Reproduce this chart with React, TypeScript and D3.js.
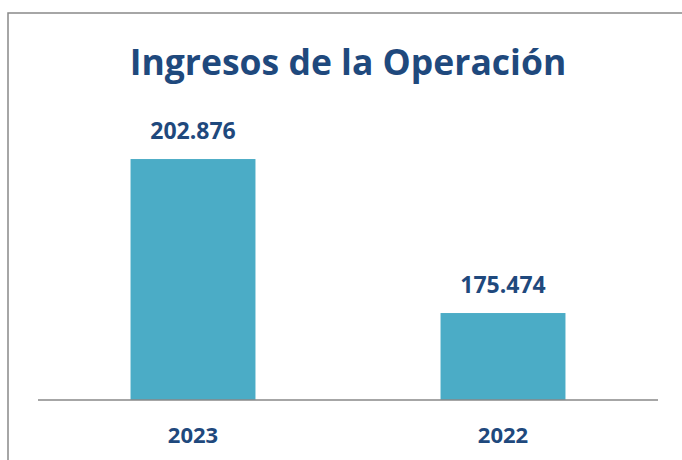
import React, { useEffect, useRef } from 'react'
import * as d3 from 'd3'

const categories = ['2023', '2022']
const values = [202.876, 175.474]
const valueLabels = ['202.876', '175.474']
const title = 'Ingresos de la Operación'

const W = 682
const H = 460
const textColor = '#1f497d'
const barColor = '#4bacc6'
const font = '"Open Sans", sans-serif'

export default function App() {
  const ref = useRef<SVGSVGElement>(null)

  useEffect(() => {
    const svg = d3.select(ref.current)
    svg.selectAll('*').remove()

    const x = d3
      .scaleBand<string>()
      .domain(categories)
      .range([38, 658])
      .paddingInner(0.597)
      .paddingOuter(0.2985)

    // axis doesn't start at zero in the original
    const y = d3.scaleLinear().domain([160, 210]).range([400, 119])

    // outer frame
    svg
      .append('rect')
      .attr('x', 8)
      .attr('y', 13)
      .attr('width', W)
      .attr('height', H)
      .attr('fill', 'none')
      .attr('stroke', '#898989')
      .attr('stroke-width', 1.5)

    svg
      .append('text')
      .attr('x', 348)
      .attr('y', 75)
      .attr('text-anchor', 'middle')
      .attr('font-family', font)
      .attr('font-weight', 700)
      .attr('font-size', 35.5)
      .attr('fill', textColor)
      .text(title)

    svg
      .selectAll('rect.bar')
      .data(values)
      .enter()
      .append('rect')
      .attr('class', 'bar')
      .attr('x', (d, i) => x(categories[i])!)
      .attr('width', x.bandwidth())
      .attr('y', d => y(d))
      .attr('height', d => y(160) - y(d))
      .attr('fill', barColor)

    svg
      .selectAll('text.val')
      .data(values)
      .enter()
      .append('text')
      .attr('class', 'val')
      .attr('x', (d, i) => x(categories[i])! + x.bandwidth() / 2)
      .attr('y', d => y(d) - 20)
      .attr('text-anchor', 'middle')
      .attr('font-family', font)
      .attr('font-weight', 700)
      .attr('font-size', 23)
      .attr('fill', textColor)
      .text((d, i) => valueLabels[i])

    svg
      .append('line')
      .attr('x1', 38)
      .attr('x2', 658)
      .attr('y1', 400)
      .attr('y2', 400)
      .attr('stroke', '#898989')
      .attr('stroke-width', 1.5)

    svg
      .selectAll('text.cat')
      .data(categories)
      .enter()
      .append('text')
      .attr('class', 'cat')
      .attr('x', d => x(d)! + x.bandwidth() / 2)
      .attr('y', 443)
      .attr('text-anchor', 'middle')
      .attr('font-family', font)
      .attr('font-weight', 700)
      .attr('font-size', 22)
      .attr('fill', textColor)
      .text(d => d)
  }, [])

  return (
    <svg
      ref={ref}
      width={W}
      height={H}
      style={{ position: 'absolute', left: 0, top: 0, background: '#fff' }}
    />
  )
}
